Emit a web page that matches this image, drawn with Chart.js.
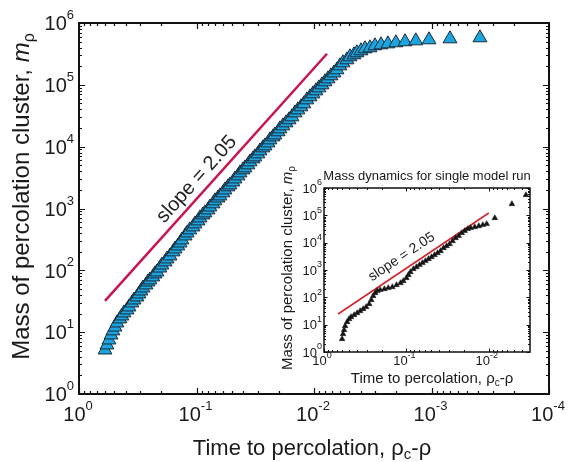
<!DOCTYPE html>
<html><head><meta charset="utf-8">
<script src="https://cdn.jsdelivr.net/npm/chart.js@4/dist/chart.umd.min.js"></script>
<style>
html,body{margin:0;padding:0;background:#fff;}
#wrap{position:relative;width:577px;height:462px;overflow:hidden;}
#main{position:absolute;left:0;top:0;}
#inset{position:absolute;left:262px;top:160px;}
</style></head><body>
<div id="wrap">
<canvas id="main" width="577" height="462"></canvas>
<canvas id="inset" width="278" height="227"></canvas>
</div>
<script>
// ---------- data ----------
const mainTime = [0.601,0.578,0.556,0.534,0.514,0.494,0.475,0.448,0.431,0.414,
  0.390,0.375,0.354,0.340,0.321,0.309,0.297,0.285,0.269,0.259,
  0.249,0.235,0.226,0.217,0.205,0.197,0.185,0.178,0.168,0.158,
  0.152,0.144,0.138,0.133,0.125,0.120,0.114,0.107,0.103,0.0971,
  0.0934,0.0881,0.0847,0.0798,0.0768,0.0724,0.0696,0.0656,0.0631,0.0595,
  0.0572,0.0539,0.0519,0.0489,0.0470,0.0443,0.0426,0.0402,0.0387,0.0365,
  0.0350,0.0330,0.0318,0.0300,0.0288,0.0272,0.0261,0.0246,0.0237,0.0223,
  0.0215,0.0202,0.0195,0.0184,0.0173,0.0163,0.0154,0.0145,0.0137,0.0129,
  0.0122,0.0115,0.0108,0.0102,0.00962,0.00907,0.00855,0.00806,0.00760,0.00717,
  0.00676,0.00637,0.00601,0.00567,0.00524,0.00494,0.00457,0.00431,0.00398,0.00368,
  0.00334,0.00303,0.00269,0.00235,0.00201,0.00168,0.00136,0.00105,0.000696,0.000387];
const mainMass = [5.15,6.21,7.48,9.01,10.5,12.1,14.1,16.4,18.3,20.5,
  22.9,25.6,29.7,33.2,37.1,41.5,46.4,51.9,58.0,64.9,
  70.0,78.2,87.5,94.2,109,122,137,153,171,199,
  222,248,277,310,360,403,451,504,564,630,
  705,788,849,949,1060,1190,1330,1480,1600,1790,
  2000,2240,2410,2690,3010,3370,3770,4210,4540,5080,
  5680,6350,6840,7650,8550,9570,10300,11500,12900,14400,
  15500,17400,19400,21700,24300,27200,30400,35200,39400,44100,
  49300,57200,64000,71500,80000,89400,100000,112000,125000,140000,
  156000,175000,203000,227000,254000,284000,306000,330000,355000,383000,
  397000,428000,444000,460000,479000,497000,515000,535000,555000,577000];
const mainSlopeTime = [0.601, 0.00775];
const mainSlopeMass = [32.0, 318000];

const insetTime = [0.603,0.587,0.570,0.554,0.524,0.496,0.469,0.431,0.396,0.364,
  0.335,0.308,0.283,0.267,0.253,0.239,0.226,0.208,0.185,0.166,
  0.148,0.132,0.118,0.109,0.100,0.0945,0.0894,0.0822,0.0755,0.0694,
  0.0638,0.0587,0.0539,0.0496,0.0456,0.0419,0.0385,0.0354,0.0325,0.0299,
  0.0275,0.0253,0.0232,0.0213,0.0196,0.0180,0.0166,0.0148,0.0132,0.0118,
  0.0106,0.00845,0.00524,0.00354];
const insetMass = [2.99,4.56,6.38,8.94,12.5,16.1,19.1,22.6,26.7,31.6,
  37.4,44.3,57.1,79.9,112,144,171,186,202,220,
  239,283,335,396,510,657,846,1090,1290,1530,
  1810,2140,2530,2990,3540,4190,4960,6390,7560,8950,
  11500,14800,17600,22600,26800,31700,34500,37500,40800,44400,
  48300,80000,260000,555000];
const insetSlopeTime = [0.675, 0.0100];
const insetSlopeMass = [24.6, 122000];

const mainXExps = [0,-1,-2,-3,-4];
const mainYExps = [0,1,2,3,4,5,6];
const insetXExps = [0,-1,-2];
const insetYExps = [0,1,2,3,4,5,6];

const slopeText = 'slope = 2.05';
const insetTitleText = 'Mass dynamics for single model run';

// ---------- helpers ----------
const FONT = '"Liberation Sans", Arial, Helvetica, sans-serif';
function setFont(ctx, p){ ctx.font = (p.italic ? 'italic ' : '') + p.size + 'px ' + FONT; }
function drawRich(ctx, parts, x, y, align){
  let total = 0; const w = [];
  for (const p of parts){ setFont(ctx, p); const m = ctx.measureText(p.text).width; w.push(m); total += m; }
  let cx = align === 'center' ? x - total/2 : (align === 'right' ? x - total : x);
  ctx.textAlign = 'left'; ctx.textBaseline = 'alphabetic';
  parts.forEach((p,i)=>{ setFont(ctx,p); ctx.fillText(p.text, cx, y + (p.dy||0)); cx += w[i]; });
}
function powParts(e, s){ return [{text:'10', size:s}, {text:String(e), size:Math.round(s*0.66), dy:-s*0.56}]; }
function xTitleParts(s){ return [{text:'Time to percolation, ', size:s},{text:'ρ', size:s},{text:'c', size:Math.round(s*0.68), dy:s*0.2},{text:'-ρ', size:s}]; }
function yTitleParts(s){ return [{text:'Mass of percolation cluster, ', size:s},{text:'m', size:s, italic:true},{text:'ρ', size:Math.round(s*0.68), dy:s*0.22}]; }
function logTicks(min, max){
  const out=[];
  for (let e=Math.floor(Math.log10(min)); e<=Math.ceil(Math.log10(max)); e++){
    for (let k=1;k<10;k++){ const v=k*Math.pow(10,e); if (v>=min*0.999 && v<=max*1.001) out.push({v, major:k===1}); }
  }
  return out;
}

const framePlugin = {
  id:'frame',
  beforeDraw(chart, args, o){
    if (o.bg){ const c=chart.ctx; c.save(); c.fillStyle=o.bg; c.fillRect(0,0,chart.width,chart.height); c.restore(); }
  },
  afterDraw(chart, args, o){
    const ctx = chart.ctx, a = chart.chartArea, x = chart.scales.x, y = chart.scales.y;
    ctx.save();
    ctx.strokeStyle = '#111'; ctx.fillStyle = '#1a1a1a';
    ctx.lineWidth = o.tickWidth;
    ctx.beginPath();
    for (const t of logTicks(x.min, x.max)){
      const px = Math.round(x.getPixelForValue(t.v)) + 0.5, L = t.major ? o.major : o.minor;
      ctx.moveTo(px, a.bottom); ctx.lineTo(px, a.bottom - L);
      ctx.moveTo(px, a.top); ctx.lineTo(px, a.top + L);
    }
    for (const t of logTicks(y.min, y.max)){
      const py = Math.round(y.getPixelForValue(t.v)) + 0.5, L = t.major ? o.major : o.minor;
      ctx.moveTo(a.left, py); ctx.lineTo(a.left + L, py);
      ctx.moveTo(a.right, py); ctx.lineTo(a.right - L, py);
    }
    ctx.stroke();
    ctx.lineWidth = o.frameWidth;
    ctx.strokeRect(a.left, a.top, a.right - a.left, a.bottom - a.top);
    // tick labels
    for (const e of o.xExps){
      const px = x.getPixelForValue(Math.pow(10,e));
      drawRich(ctx, powParts(e, o.tickSize), px + o.xLabelDx, o.xLabelY, 'center');
    }
    for (const e of o.yExps){
      const py = y.getPixelForValue(Math.pow(10,e));
      drawRich(ctx, powParts(e, o.tickSize), a.left - o.yLabelGap, py + o.tickSize*0.36, 'right');
    }
    // axis titles
    drawRich(ctx, xTitleParts(o.xTitleSize), (a.left + a.right)/2 + o.xTitleDx, o.xTitleY, 'center');
    ctx.save();
    ctx.translate(o.yTitleX, (a.top + a.bottom)/2 + o.yTitleDy);
    ctx.rotate(-Math.PI/2);
    drawRich(ctx, yTitleParts(o.yTitleSize), 0, 0, 'center');
    ctx.restore();
    if (o.title){
      drawRich(ctx, [{text:o.title, size:o.titleSize}], (a.left + a.right)/2, o.titleY, 'center');
    }
    // slope label parallel to the fitted line
    const meta = chart.getDatasetMeta(1);
    if (meta && meta.data.length === 2){
      const p0 = meta.data[0], p1 = meta.data[1];
      const dx = p1.x - p0.x, dy = p1.y - p0.y, len = Math.hypot(dx, dy);
      const ang = Math.atan2(dy, dx);
      const nx = dy/len, ny = -dx/len;
      const cx = p0.x + dx*o.slopeT + nx*o.slopeOff, cy = p0.y + dy*o.slopeT + ny*o.slopeOff;
      ctx.translate(cx, cy); ctx.rotate(ang);
      ctx.font = o.slopeSize + 'px ' + FONT; ctx.textAlign = 'center'; ctx.textBaseline = 'middle';
      ctx.fillStyle = '#222';
      ctx.fillText(slopeText, 0, 0);
    }
    ctx.restore();
  }
};

function logAxis(min, max, reverse, fit){
  return { type:'logarithmic', min, max, reverse, grid:{display:false}, border:{display:false},
           ticks:{display:false}, afterFit: fit };
}

// ---------- main chart ----------
new Chart(document.getElementById('main'), {
  type:'scatter',
  data:{ datasets:[
    { data: mainTime.map((t,i)=>({x:t, y:mainMass[i]})), pointStyle:'triangle', pointRadius:8,
      backgroundColor:'#1ca4df', borderColor:'#1b2a38', borderWidth:1 },
    { data: mainSlopeTime.map((t,i)=>({x:t, y:mainSlopeMass[i]})), showLine:true, pointRadius:0,
      borderColor:'#c6174d', borderWidth:2.5 }
  ]},
  options:{
    responsive:false, animation:false, devicePixelRatio:1,
    layout:{padding:{left:0, right:28, top:23, bottom:0}},
    plugins:{ legend:{display:false}, tooltip:{enabled:false},
      frame:{ tickWidth:1.2, frameWidth:2, major:6, minor:3, tickSize:20,
        xExps:mainXExps, yExps:mainYExps, xLabelY:421, xLabelDx:-1, yLabelGap:5,
        xTitleSize:22, xTitleY:455, xTitleDx:-2, yTitleSize:24, yTitleX:29, yTitleDy:-12,
        slopeT:0.457, slopeOff:13, slopeSize:20 } },
    scales:{
      x: logAxis(1e-4, 1, true, s=>{ s.height = 68; }),
      y: logAxis(1, 1e6, false, s=>{ s.width = 79; })
    }
  },
  plugins:[framePlugin]
});

// ---------- inset chart ----------
new Chart(document.getElementById('inset'), {
  type:'scatter',
  data:{ datasets:[
    { data: insetTime.map((t,i)=>({x:t, y:insetMass[i]})), pointStyle:'triangle', pointRadius:3.3,
      backgroundColor:'#151515', borderColor:'#151515', borderWidth:0.5 },
    { data: insetSlopeTime.map((t,i)=>({x:t, y:insetSlopeMass[i]})), showLine:true, pointRadius:0,
      borderColor:'#d3242c', borderWidth:1.6 }
  ]},
  options:{
    responsive:false, animation:false, devicePixelRatio:1,
    layout:{padding:{left:0, right:10, top:28, bottom:0}},
    plugins:{ legend:{display:false}, tooltip:{enabled:false},
      frame:{ bg:'#ffffff', tickWidth:1, frameWidth:1.5, major:3.5, minor:2, tickSize:13,
        xExps:insetXExps, yExps:insetYExps, xLabelY:205, xLabelDx:-2, yLabelGap:2,
        xTitleSize:15, xTitleY:223, xTitleDx:5, yTitleSize:15, yTitleX:30, yTitleDy:-2,
        title:insetTitleText, titleSize:13, titleY:20,
        slopeT:0.466, slopeOff:12, slopeSize:14 } },
    scales:{
      x: logAxis(0.00316, 1, true, s=>{ s.height = 35; }),
      y: logAxis(1, 1e6, false, s=>{ s.width = 62; })
    }
  },
  plugins:[framePlugin]
});
</script>
</body></html>
